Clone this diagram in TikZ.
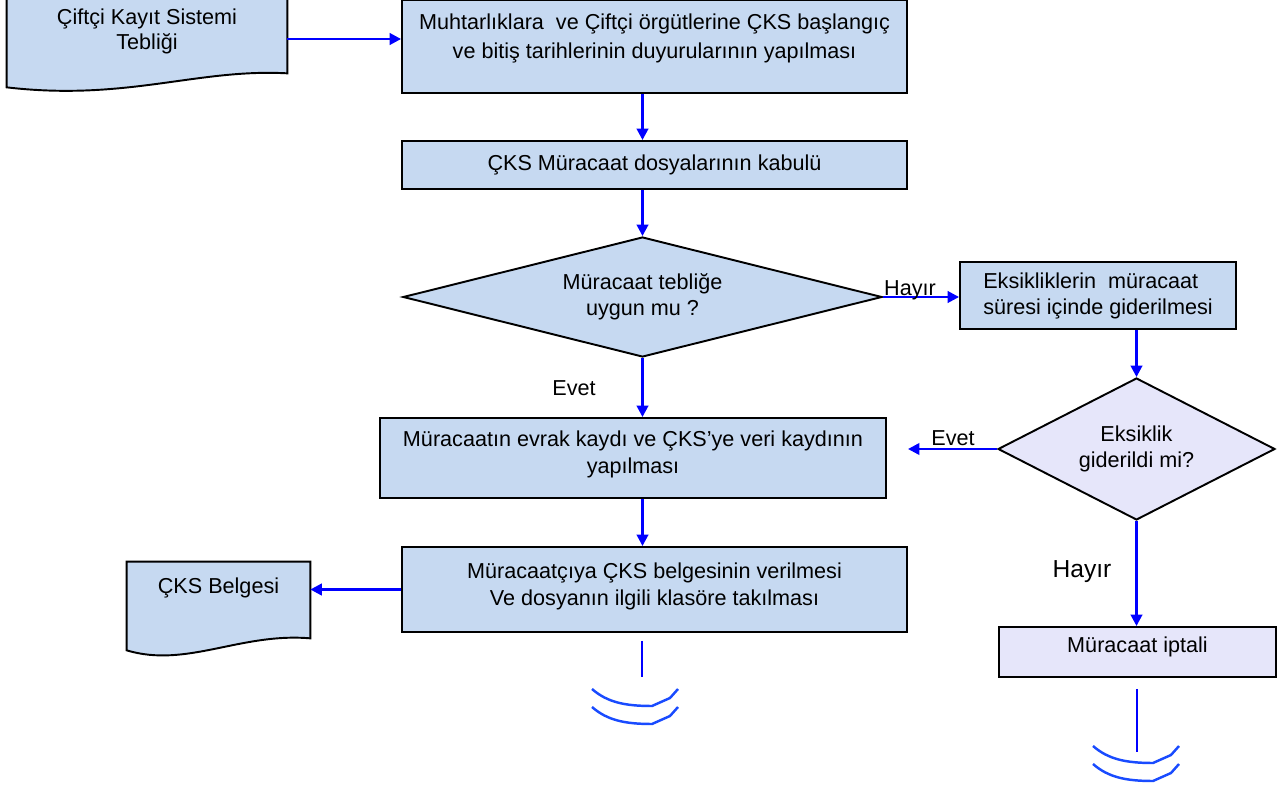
\documentclass[tikz,border=0pt]{standalone}
\usepackage{fontspec}
\setmainfont{Liberation Sans}
\usetikzlibrary{shapes.geometric,arrows.meta,backgrounds}
\definecolor{kutumavi}{RGB}{198,217,241}
\definecolor{lila}{RGB}{230,230,250}
\definecolor{okmavi}{RGB}{0,0,255}
\definecolor{sonmavi}{RGB}{25,75,255}
\def\endmark(#1,#2){\draw[endarc] (#1-50,#2) .. controls (#1-35,#2+13) and (#1-18,#2+17) .. (#1+10,#2+17) -- (#1+28,#2+9) -- (#1+36,#2);}
\tikzset{
	flowbox/.style={draw, fill=kutumavi, line width=1.1pt, align=center, inner sep=0pt, font=\fontsize{12.3}{14.8}\selectfont},
	decide/.style={diamond, draw, fill=kutumavi, line width=1.1pt, align=center, inner sep=0pt, font=\fontsize{12.3}{14.5}\selectfont},
	docnode/.style={align=center, inner sep=0pt, font=\fontsize{12.3}{14.5}\selectfont},
	docshape/.style={draw, fill=kutumavi, line width=1.1pt},
	flow/.style={draw=okmavi, line width=1.5pt, -{Triangle[length=6.5pt,width=6.5pt]}},
	endline/.style={draw=okmavi, line width=1.5pt},
	endarc/.style={draw=sonmavi, line width=1.4pt},
	answer/.style={font=\fontsize{12.3}{14.5}\selectfont, inner sep=0pt}
}

\begin{document}
\begin{tikzpicture}[x=0.02cm, y=-0.02cm]
		\useasboundingbox (0,0) rectangle (1288,787);
		
		% main column
		\node[docnode, minimum width=5.6cm, minimum height=1.66cm] (teblig) at (147,31.5) {Çiftçi Kayıt Sistemi\\Tebliği};
		\node[flowbox, font=\fontsize{12.3}{17}\selectfont, minimum width=10.1cm, text height=1.18cm, text depth=0.68cm] (duyuru) at (654.5,46.5) {Muhtarlıklara\ \ ve Çiftçi örgütlerine ÇKS başlangıç\\ve bitiş tarihlerinin duyurularının yapılması};
		\node[flowbox, minimum width=10.1cm, minimum height=0.96cm] (kabul) at (654.5,165) {ÇKS Müracaat dosyalarının kabulü};
		\node[decide, aspect=4, minimum width=9.58cm, minimum height=2.4cm] (karar) at (642.5,297) {Müracaat tebliğe\\uygun mu ?};
		\node[flowbox, minimum width=10.12cm, text height=1.1cm, text depth=0.5cm] (kayit) at (633,458) {Müracaatın evrak kaydı ve ÇKS’ye veri kaydının\\yapılması};
		\node[flowbox, minimum width=10.1cm, text height=1.16cm, text depth=0.54cm] (teslim) at (654.5,589.5) {Müracaatçıya ÇKS belgesinin verilmesi\\Ve dosyanın ilgili klasöre takılması};
		\node[docnode, minimum width=3.66cm, text height=0.62cm, text depth=0.96cm] (belge) at (218.5,601.5) {ÇKS Belgesi};
		
		% right column
		\node[flowbox, align=left, minimum width=5.52cm, minimum height=1.34cm] (eksik) at (1098,295.5) {Eksikliklerin\ \ müracaat\\süresi içinde giderilmesi};
		\node[decide, fill=lila, aspect=2, minimum width=5.54cm, minimum height=2.84cm] (kontrol) at (1136.5,449) {Eksiklik\\giderildi mi?};
		\node[flowbox, fill=lila, minimum width=5.54cm, text height=0.5cm, text depth=0.5cm] (iptal) at (1137.5,652) {Müracaat iptali};
		
		% document outlines
		\begin{scope}[on background layer]
		\draw[docshape] (teblig.north west) -- (teblig.north east) -- (teblig.south east)
			.. controls +(-90,-5) and +(120,14) .. ([yshift=-14*0.02cm]teblig.south west) -- cycle;
		\draw[docshape] (belge.north west) -- (belge.north east) -- ([yshift=3*0.02cm]belge.south east)
			.. controls +(-70,-6) and +(60,18) .. ([yshift=-9*0.02cm]belge.south west) -- cycle;
		\end{scope}
		
		% connectors
		\draw[flow] (teblig.east |- 0,39) -- (duyuru.west |- 0,39);
		\draw[flow] (duyuru.south -| karar.north) -- (kabul.north -| karar.north);
		\draw[flow] (kabul.south -| karar.north) -- (karar.north);
		\draw[flow] (karar.east) -- (eksik.west |- karar.east);
		\node[answer] (hayir1) at (910,290) {Hayır};
		\draw[flow] (eksik.south -| kontrol.north) -- (kontrol.north);
		\draw[flow] (karar.south) -- (karar.south |- kayit.north);
		\node[answer] (evet1) at (574,388) {Evet};
		\coordinate (evetuc) at (908,449);
		\draw[flow] (kontrol.west) -- (kontrol.west -| evetuc);
		\node[answer] (evet2) at (953,438) {Evet};
		\draw[flow] (kayit.south -| karar.south) -- (teslim.north -| karar.south);
		\draw[flow] (teslim.west) -- (belge.east |- teslim.west);
		\draw[flow] (kontrol.south) -- (kontrol.south |- iptal.north);
		\node[answer, font=\fontsize{14}{16}\selectfont] (hayir2) at (1082,572) {Hayır};
		
		% ends
		\coordinate (son1) at (642,677);
		\draw[endline] (teslim.south -| son1) ++(0,8) -- (son1);
		\endmark(642,689);
		\endmark(642,707);
		\coordinate (son2) at (1137,752);
		\draw[endline] (iptal.south -| son2) ++(0,11) -- (son2);
		\endmark(1143,746);
		\endmark(1143,764);
\end{tikzpicture}
\end{document}
